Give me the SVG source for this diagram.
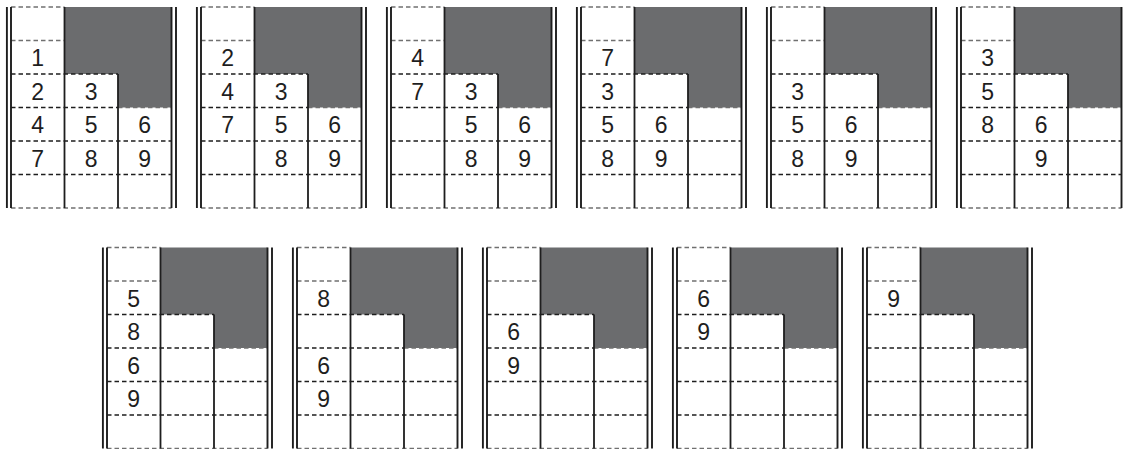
<svg xmlns="http://www.w3.org/2000/svg" xmlns:xlink="http://www.w3.org/1999/xlink" width="1123" height="449" viewBox="0 0 1123 449">
<style>
.dark{fill:#6b6c6e;stroke:none}
.dash{fill:none;stroke:#1e1e1e;stroke-width:1.4;stroke-dasharray:4.5 3}
.dashg{fill:none;stroke:#707070;stroke-width:1.7;stroke-dasharray:4.5 3}
.solid{fill:none;stroke:#1e1e1e;stroke-width:1.8}
.outer{fill:none;stroke:#1e1e1e;stroke-width:1.9}
text{font-family:"Liberation Sans",Arial,sans-serif;font-size:23px;fill:#1e1e1e;text-anchor:middle}
</style>
<defs>
<g id="grid">
<path class="dark" d="M58.5,0 H165.5 V100.5 H112 V67 H58.5 Z"/>
<path class="dash" d="M5,67 H112 M5,100.5 H112 M5,134 H165.5 M5,167.5 H165.5"/>
<path class="dashg" d="M5,0 H58.5 M5,33.5 H58.5 M112,100.5 H165.5 M5,201 H165.5"/>
<path class="solid" d="M58.5,0 V201 M112,67 V201"/>
<path class="outer" d="M0.9,0 V201 M5,0 V201 M165.5,0 V201 M170,0 V201"/>
</g>
</defs>
<rect width="1123" height="449" fill="#fff"/>

<g id="p1" transform="translate(6,7)">
<use xlink:href="#grid"/>
<text x="31.75" y="59.25">1</text><text x="31.75" y="92.75">2</text><text x="31.75" y="126.25">4</text><text x="31.75" y="159.75">7</text>
<text x="85.25" y="92.75">3</text><text x="85.25" y="126.25">5</text><text x="85.25" y="159.75">8</text>
<text x="138.75" y="126.25">6</text><text x="138.75" y="159.75">9</text>
</g>

<g id="p2" transform="translate(196,7)">
<use xlink:href="#grid"/>
<text x="31.75" y="59.25">2</text><text x="31.75" y="92.75">4</text><text x="31.75" y="126.25">7</text>
<text x="85.25" y="92.75">3</text><text x="85.25" y="126.25">5</text><text x="85.25" y="159.75">8</text>
<text x="138.75" y="126.25">6</text><text x="138.75" y="159.75">9</text>
</g>

<g id="p3" transform="translate(386,7)">
<use xlink:href="#grid"/>
<text x="31.75" y="59.25">4</text><text x="31.75" y="92.75">7</text>
<text x="85.25" y="92.75">3</text><text x="85.25" y="126.25">5</text><text x="85.25" y="159.75">8</text>
<text x="138.75" y="126.25">6</text><text x="138.75" y="159.75">9</text>
</g>

<g id="p4" transform="translate(576,7)">
<use xlink:href="#grid"/>
<text x="31.75" y="59.25">7</text><text x="31.75" y="92.75">3</text><text x="31.75" y="126.25">5</text><text x="31.75" y="159.75">8</text>
<text x="85.25" y="126.25">6</text><text x="85.25" y="159.75">9</text>
</g>

<g id="p5" transform="translate(766,7)">
<use xlink:href="#grid"/>
<text x="31.75" y="92.75">3</text><text x="31.75" y="126.25">5</text><text x="31.75" y="159.75">8</text>
<text x="85.25" y="126.25">6</text><text x="85.25" y="159.75">9</text>
</g>

<g id="p6" transform="translate(956,7)">
<use xlink:href="#grid"/>
<text x="31.75" y="59.25">3</text><text x="31.75" y="92.75">5</text><text x="31.75" y="126.25">8</text>
<text x="85.25" y="126.25">6</text><text x="85.25" y="159.75">9</text>
</g>

<g id="p7" transform="translate(102,247.5)">
<use xlink:href="#grid"/>
<text x="31.75" y="59.25">5</text><text x="31.75" y="92.75">8</text><text x="31.75" y="126.25">6</text><text x="31.75" y="159.75">9</text>
</g>

<g id="p8" transform="translate(292,247.5)">
<use xlink:href="#grid"/>
<text x="31.75" y="59.25">8</text><text x="31.75" y="126.25">6</text><text x="31.75" y="159.75">9</text>
</g>

<g id="p9" transform="translate(482,247.5)">
<use xlink:href="#grid"/>
<text x="31.75" y="92.75">6</text><text x="31.75" y="126.25">9</text>
</g>

<g id="p10" transform="translate(672,247.5)">
<use xlink:href="#grid"/>
<text x="31.75" y="59.25">6</text><text x="31.75" y="92.75">9</text>
</g>

<g id="p11" transform="translate(862,247.5)">
<use xlink:href="#grid"/>
<text x="31.75" y="59.25">9</text>
</g>

<g id="connectors"></g>
</svg>
